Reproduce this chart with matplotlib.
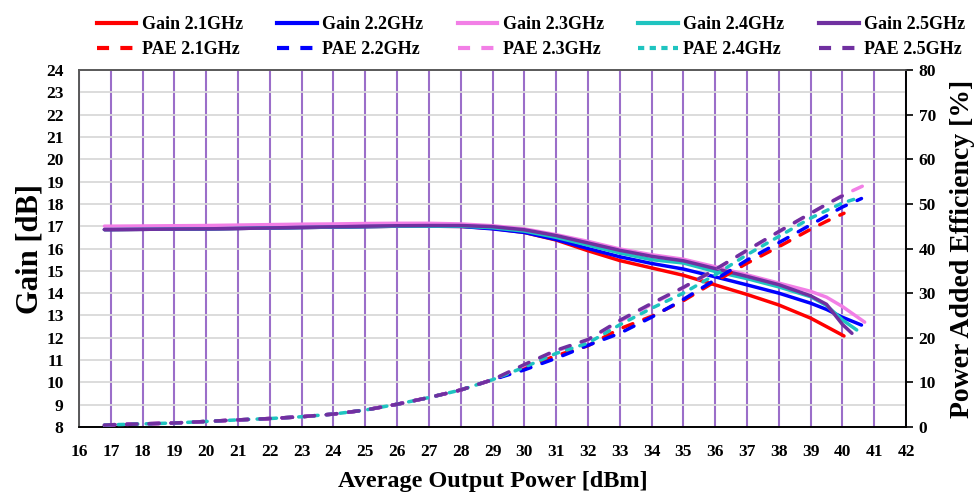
"""
plot.py

Gain and PAE vs average output power, 2.1-2.5 GHz.
"""

import matplotlib
matplotlib.use("Agg")
import matplotlib.pyplot as plt
from matplotlib.lines import Line2D

plt.rcParams["font.family"] = ["Liberation Serif", "DejaVu Serif"]
plt.rcParams["font.weight"] = "bold"

# output power [dBm] per frequency (shared by gain and PAE)
pout_21 = [16.8, 17, 18, 19, 20, 21, 22, 23, 24, 25, 26, 27, 28, 29, 30, 31, 32, 33, 34, 35, 36, 37, 38, 39, 39.5, 40.05]
pout_22 = [16.8, 17, 18, 19, 20, 21, 22, 23, 24, 25, 26, 27, 28, 29, 30, 31, 32, 33, 34, 35, 36, 37, 38, 39, 39.5, 40, 40.6]
pout_23 = [16.8, 17, 18, 19, 20, 21, 22, 23, 24, 25, 26, 27, 28, 29, 30, 31, 32, 33, 34, 35, 36, 37, 38, 39, 39.5, 40, 40.7]
pout_24 = [16.8, 17, 18, 19, 20, 21, 22, 23, 24, 25, 26, 27, 28, 29, 30, 31, 32, 33, 34, 35, 36, 37, 38, 39, 39.5, 40, 40.45]
pout_25 = [16.8, 17, 18, 19, 20, 21, 22, 23, 24, 25, 26, 27, 28, 29, 30, 31, 32, 33, 34, 35, 36, 37, 38, 39, 39.5, 40, 40.3]

# gain [dB]
gain_21 = [16.85, 16.85, 16.86, 16.87, 16.88, 16.9, 16.92, 16.94, 16.96, 16.98, 17.0, 17.0, 16.99,
           16.9, 16.72, 16.38, 15.9, 15.46, 15.13, 14.8, 14.37, 13.94, 13.47, 12.88, 12.5, 12.08]
gain_22 = [16.85, 16.85, 16.86, 16.87, 16.88, 16.9, 16.92, 16.94, 16.96, 16.98, 17.0, 17.0, 16.99,
           16.88, 16.72, 16.4, 16.0, 15.63, 15.33, 15.08, 14.73, 14.37, 14.0, 13.55, 13.27, 12.92, 12.57]
gain_23 = [17.0, 17.0, 17.01, 17.02, 17.03, 17.05, 17.07, 17.09, 17.1, 17.12, 17.13, 17.13, 17.1,
           17.02, 16.88, 16.62, 16.32, 15.98, 15.72, 15.52, 15.18, 14.82, 14.45, 14.08, 13.82, 13.4, 12.7]
gain_24 = [16.85, 16.85, 16.86, 16.87, 16.88, 16.9, 16.92, 16.94, 16.96, 16.98, 17.0, 17.0, 17.0,
           16.93, 16.78, 16.5, 16.15, 15.8, 15.5, 15.35, 14.97, 14.65, 14.28, 13.84, 13.45, 12.8, 12.35]
gain_25 = [16.85, 16.85, 16.86, 16.87, 16.88, 16.9, 16.92, 16.95, 16.97, 17.0, 17.02, 17.03, 17.03,
           16.98, 16.84, 16.58, 16.25, 15.92, 15.65, 15.45, 15.1, 14.75, 14.38, 13.88, 13.5, 12.6, 12.2]

# power added efficiency [%]
pae_21 = [0.4, 0.5, 0.7, 0.9, 1.25, 1.6, 1.9, 2.3, 2.9, 3.8, 5.1, 6.6, 8.3,
          10.6, 13.2, 16.0, 18.2, 22.0, 24.8, 28.3, 32.6, 36.7, 40.4, 44.3, 46.1, 47.9]
pae_22 = [0.4, 0.5, 0.7, 0.9, 1.25, 1.6, 1.9, 2.3, 2.9, 3.8, 5.1, 6.6, 8.3,
          10.6, 12.8, 15.4, 18.3, 21.0, 24.6, 28.6, 33.0, 37.4, 41.3, 45.3, 47.3, 49.3, 51.2]
pae_23 = [0.4, 0.5, 0.7, 0.9, 1.25, 1.6, 1.9, 2.3, 2.9, 3.8, 5.1, 6.6, 8.3,
          10.6, 13.8, 17.0, 19.5, 23.7, 27.5, 31.2, 35.2, 39.5, 43.7, 47.8, 49.9, 51.9, 54.2]
pae_24 = [0.4, 0.5, 0.7, 0.9, 1.25, 1.6, 1.9, 2.3, 2.9, 3.8, 5.1, 6.6, 8.3,
          10.6, 13.4, 16.5, 18.8, 22.9, 26.6, 30.0, 34.1, 38.6, 42.7, 46.8, 48.5, 50.2, 51.2]
pae_25 = [0.4, 0.5, 0.7, 0.9, 1.25, 1.6, 1.9, 2.3, 2.9, 3.8, 5.1, 6.6, 8.3,
          10.6, 14.0, 17.2, 19.6, 23.9, 27.7, 31.3, 35.3, 39.6, 43.8, 47.9, 49.9, 51.8, 52.8]

freq_labels = ["2.1GHz", "2.2GHz", "2.3GHz", "2.4GHz", "2.5GHz"]
colors = ["#FF0000", "#0000FF", "#F27FE6", "#1FC4C0", "#7030A0"]

LW = 2.5
DASH = (3.0, 3.4)
DASH_SHORT = (1.6, 2.4)   # 2.4 GHz PAE uses a shorter dash


def main() -> None:
    fig = plt.figure(figsize=(9.74, 4.94), dpi=100)
    ax = fig.add_axes([0.0811, 0.1356, 0.8491, 0.7227])
    ax2 = ax.twinx()

    pouts = [pout_21, pout_22, pout_23, pout_24, pout_25]
    gains = [gain_21, gain_22, gain_23, gain_24, gain_25]
    paes = [pae_21, pae_22, pae_23, pae_24, pae_25]

    handles = []
    for i, (x, g, p) in enumerate(zip(pouts, gains, paes)):
        dash = DASH_SHORT if i == 3 else DASH
        ax.plot(x, g, color=colors[i], lw=LW, solid_capstyle="round", zorder=3)
        ax2.plot(x, p, color=colors[i], lw=LW, dashes=dash,
                 dash_capstyle="round", zorder=3)
        handles.append(Line2D([], [], color=colors[i], lw=LW + 0.5))
        handles.append(Line2D([], [], color=colors[i], lw=LW + 0.5,
                              dashes=(1.5, 1.3) if i == 3 else (2.9, 2.7)))

    labels = []
    for f in freq_labels:
        labels += [f"Gain {f}", f"PAE {f}"]

    # left axis: gain
    ax.set_xlim(16, 42)
    ax.set_ylim(8, 24)
    ax.set_xticks(range(16, 43))
    ax.set_yticks(range(8, 25))
    ax.tick_params(axis="x", length=0, labelsize=12.5, pad=12)
    ax.tick_params(axis="y", length=0, labelsize=12.5, pad=11)
    ax.grid(axis="y", color="#D9D9D9", lw=1.3, zorder=0)
    ax.grid(axis="x", color="#8A55C0", lw=1.5, alpha=0.85, zorder=0)
    ax.set_axisbelow(True)
    ax.set_xlabel("Average Output Power [dBm]", fontsize=17.5, fontweight="bold", labelpad=8)
    ax.set_ylabel("Gain [dB]", fontsize=22, fontweight="bold", labelpad=1)

    # right axis: PAE
    ax2.set_ylim(0, 80)
    ax2.set_yticks(range(0, 81, 10))
    ax2.tick_params(axis="y", direction="out", length=5, width=1.2, labelsize=12.5, pad=4)
    ax2.set_ylabel("Power Added Efficiency [%]", fontsize=20, fontweight="bold", labelpad=10)

    for a in (ax, ax2):
        a.spines["top"].set_color("#595959")
        a.spines["left"].set_color("#595959")
        a.spines["bottom"].set_color("black")
        a.spines["right"].set_color("black")
        for s in a.spines.values():
            s.set_linewidth(1.2)

    fig.legend(handles, labels, loc="upper center", bbox_to_anchor=(0.545, 1.0),
               ncol=5, frameon=False, fontsize=13, handlelength=2.2,
               handletextpad=0.3, columnspacing=1.9, labelspacing=0.45)

    fig.savefig("out.png", dpi=100)
    plt.close(fig)


if __name__ == "__main__":
    main()
